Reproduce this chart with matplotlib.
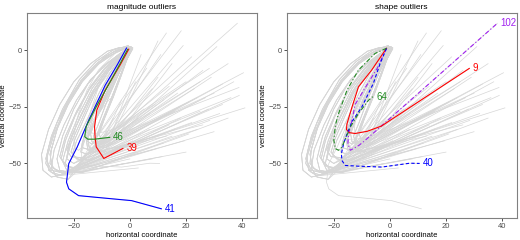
import numpy as np
import matplotlib.pyplot as plt

plt.rcParams['font.family'] = ['Liberation Sans', 'DejaVu Sans']

# background curves: path from the start point down to the turn (x, y)
descents = [
    [(0, 1.5), (-4, 1), (-8, -0.5), (-14, -6), (-20, -14), (-25, -24), (-29, -35), (-31.5, -46), (-31, -53), (-28, -56)],
    [(0.2, 1.4), (-4.5, 0), (-9, -3), (-15, -10), (-21, -20), (-26, -32), (-29, -43), (-30, -50), (-28, -54), (-25, -55)],
    [(0, 1.5), (-5, -1), (-11, -6), (-17, -14), (-22, -24), (-26, -35), (-28.5, -46), (-27.5, -52), (-24, -54)],
    [(0.4, 1.2), (-4, -2), (-9.5, -7), (-15, -15), (-20, -26), (-24, -38), (-26, -48), (-25, -53), (-21, -54)],
    [(0, 1.2), (-4, -2), (-9, -8), (-14, -16), (-19, -27), (-23, -38), (-25, -47), (-23, -51), (-20, -52)],
    [(0.5, 1), (-3.5, -3), (-8, -10), (-13, -19), (-17, -30), (-21, -41), (-22.5, -48), (-20, -50)],
    [(0.3, 1), (-3, -3), (-7, -10), (-11, -19), (-15, -30), (-19, -40), (-20.5, -46), (-18, -48.5)],
    [(0.6, 1.3), (-2.5, -3), (-6.5, -11), (-10.5, -21), (-14, -31), (-17, -41), (-17.5, -45), (-15, -46)],
    [(0.5, 1), (-2, -4), (-5, -11), (-9, -21), (-12.5, -31), (-15, -39), (-14.5, -43), (-12, -44)],
    [(0.8, 0.8), (-1.5, -4), (-4.5, -12), (-8, -22), (-11, -32), (-13, -38), (-12, -41), (-10, -41.5)],
    [(0.8, 0.5), (-1, -4), (-3, -11), (-6, -21), (-9, -30), (-11, -37), (-10, -40), (-8, -40.5)],
    [(1, 1), (-1, -3), (-3.5, -9), (-7, -18), (-11, -28), (-14.5, -36), (-15.5, -40), (-13.5, -41.5)],
    [(-0.5, 2), (-6, 0), (-12, -5), (-18, -13), (-24, -26), (-28, -38), (-30, -48), (-28, -53), (-23, -54.5)],
    [(0.2, 1), (-3, -2.5), (-8, -9), (-12.5, -17), (-17, -28), (-20.5, -37), (-22.5, -44), (-21, -47), (-17, -47.5)],
    [(1, 0.5), (-1.5, -5), (-4, -13), (-7.5, -24), (-10.5, -33), (-12.5, -40), (-12, -44), (-9, -45)],
    [(0, 1.5), (-3.5, -1.5), (-8.5, -6.5), (-14, -13), (-19, -22), (-23.5, -33), (-27, -44), (-28, -52), (-26, -56), (-22, -57)],
    [(0.3, 1.3), (-4.2, -0.5), (-10, -4.5), (-16, -12), (-21.5, -22), (-25.5, -33), (-28, -44), (-28.5, -50), (-26, -53.5), (-22, -54)],
    [(0.6, 1), (-2.8, -2.5), (-7.5, -9), (-12, -18), (-16, -29), (-19.5, -39), (-21, -45), (-19, -48), (-15, -48.5)],
    [(0.9, 0.8), (-1.8, -3.5), (-5.5, -11.5), (-9.5, -21.5), (-13, -32), (-15.5, -40), (-15, -44), (-12.5, -45)],
    [(0.4, 1.4), (-3.2, -1.5), (-8, -8), (-13.5, -17), (-18, -28), (-22, -40), (-24, -49), (-22.5, -53), (-19, -54)],
    [(0.7, 0.7), (-1.2, -4.5), (-3.8, -12.5), (-7, -23), (-10, -32.5), (-12, -39), (-11, -42.5), (-8.5, -43)],
    [(0.1, 1.6), (-5.5, -0.5), (-11.5, -5.5), (-17.5, -13.5), (-23, -25), (-27, -37), (-29.5, -47), (-29, -53), (-26, -55.5)],
    [(0.5, 1.1), (-2.2, -3.5), (-6, -10.5), (-10, -20), (-13.5, -30), (-16.5, -38.5), (-17, -43), (-14.5, -44)],
    [(0.2, 1.3), (-3.8, -2), (-9, -8.5), (-14.5, -17.5), (-19.5, -29), (-23, -40), (-24.5, -48), (-22, -51.5), (-18, -52)],
    [(0.8, 0.9), (-1.6, -3.5), (-4.8, -11), (-8.5, -20.5), (-12, -30), (-14, -37), (-13.5, -40.5), (-11, -41.5)],
    [(0.4, 1.2), (-3.5, -2.5), (-8.5, -9.5), (-13.5, -18.5), (-18, -30), (-21.5, -41), (-23, -50), (-21, -53.5), (-17, -54)],
]
# end points of the curves leaving each turn
ends = [
    [(0, -48), (11.5, -47), (19.5, -40)],
    [(9.5, -43.5), (-4, -43), (14, -33)],
    [(24, -35), (1, -40), (28.5, -31)],
    [(7, -35), (18, -30), (-8, -36)],
    [(11, -30), (33, -24), (-5, -38)],
    [(16, -27), (25, -27), (3, -30)],
    [(41, -25.5), (5, -26), (-2, -33)],
    [(36, -21), (21, -23), (12, -22)],
    [(27, -21), (-6, -30), (17, -19)],
    [(30, -19), (8, -17), (-3, -22)],
    [(2, -14), (23, -17), (10, -12)],
    [(38.9, -16.5), (20, -14), (6, -8)],
    [(37, -14), (29, -12), (26, -9)],
    [(40.5, -10), (35, -6), (22, -3)],
    [(15, -6), (4, -2), (10, 4)],
    [(31, 1.5), (18.3, 8.5), (13, 7.5)],
    [(2, -45), (15, -38), (-6, -46)],
    [(22, -32), (6, -40), (32, -28)],
    [(13, -38), (26, -33), (-1, -42)],
    [(20, -45), (8, -48), (30, -36)],
    [(18, -25), (7, -28), (33, -15)],
    [(12, -41), (3, -52), (-10, -50)],
    [(24, -21), (14, -16), (9, -24)],
    [(39, -20), (28, -26), (16, -35)],
    [(11, -2), (19, 2), (25, -14)],
    [(35, -30), (-2, -50), (21, -37)],
]

# magnitude outliers
c41_x = [-1.2, -4.5, -8.8, -14.7, -18.8, -21.8, -22.6, -21.8, -18.3, -12.4, 0.6, 11.2]
c41_y = [0.9, -6.5, -15.5, -31, -42.8, -50.1, -58.3, -61.2, -64.2, -64.9, -66.4, -70]
c39_x = [-0.4, -3.5, -8.8, -11.8, -12.6, -12.4, -12, -11.2, -9.3, -2.5]
c39_y = [0.4, -6.6, -17.7, -26.5, -33.8, -38.4, -42.7, -44.2, -47.8, -43.4]
c46_x = [-0.8, -3.5, -7.7, -12, -14.5, -15.6, -16.1, -15, -12.6, -7.2]
c46_y = [0.3, -6, -15.5, -25, -31, -33.8, -38.2, -39.3, -39.3, -38.5]

# shape outliers
c102_x = [-1.2, -4.5, -9, -12.4, -13.5, -14.7, -15, -14.1, -11, -8.8, 38.3]
c102_y = [0.8, -8, -17, -24, -31, -37, -41.3, -44.2, -42, -39.8, 11.8]
c9_x = [-1.2, -6.5, -11.2, -13.5, -15.3, -15.5, -14.5, -12.4, -8, -3, 28.3]
c9_y = [0.8, -8.8, -16.2, -25.1, -32.5, -35, -36.4, -36.8, -35.8, -33.5, -8.1]
c40_x = [-1.2, -3.5, -5.9, -10, -13.5, -15.3, -16.5, -17.3, -17.1, -15.9, -11.2, -2.9, 7.1, 10.6]
c40_y = [0.8, -6, -14.7, -25.1, -31.5, -37, -41.3, -45.7, -48.7, -50.9, -51.2, -51.6, -49.9, -50]
c64_x = [-1.2, -5.3, -11.2, -15.3, -18.3, -19.4, -20, -19.4, -18.3, -17.1, -14.1, -11.2, -7.6, -6]
c64_y = [0.8, -1.5, -8.8, -17.7, -28, -33, -39.8, -43.5, -44.2, -42.8, -33.9, -28, -22.1, -20.5]

mag = [(c41_x, c41_y, '41', 'blue'), (c39_x, c39_y, '39', 'red'), (c46_x, c46_y, '46', 'forestgreen')]
shp = [(c102_x, c102_y, '102', '#a020f0', (0, (4, 2, 1, 2))),
       (c9_x, c9_y, '9', 'red', '-'),
       (c40_x, c40_y, '40', 'blue', (0, (3, 2))),
       (c64_x, c64_y, '64', 'forestgreen', (0, (4, 2, 1, 2)))]

fig = plt.figure(figsize=(5.2, 2.4), dpi=100)
ax1 = fig.add_axes([0.0513, 0.0904, 0.4423, 0.854])
ax2 = fig.add_axes([0.5513, 0.0904, 0.4423, 0.854])

for ax, title in [(ax1, 'magnitude outliers'), (ax2, 'shape outliers')]:
    for d, es in zip(descents, ends):
        dx = [p[0] for p in d]
        dy = [p[1] for p in d]
        for e in es:
            ax.plot(dx + [e[0]], dy + [e[1]], color='#d6d6d6', lw=0.5, zorder=1)
    for cx, cy in [(c41_x, c41_y), (c39_x, c39_y), (c46_x, c46_y),
                   (c102_x, c102_y), (c9_x, c9_y), (c40_x, c40_y), (c64_x, c64_y)]:
        ax.plot(cx, cy, color='#d6d6d6', lw=0.5, zorder=1)
    ax.set_xlim(-36.8, 45.2)
    ax.set_ylim(-74.2, 16.2)
    ax.set_xticks([-20, 0, 20, 40])
    ax.set_yticks([0, -25, -50])
    ax.set_title(title, fontsize=6, pad=3)
    ax.set_xlabel('horizontal coordinate', fontsize=5.5, labelpad=1.5)
    ax.set_ylabel('vertical coordinate', fontsize=5.5, labelpad=1.5)
    ax.tick_params(labelsize=5.5, length=2, width=0.6, pad=1.5,
                   colors='#333333', labelcolor='#4d4d4d')
    for s in ax.spines.values():
        s.set_color('#808080')
        s.set_linewidth(0.8)

for cx, cy, lab, col in mag:
    ax1.plot(cx, cy, color=col, lw=0.8, zorder=3)
    ax1.text(cx[-1] + 1.2, cy[-1], lab, color=col, fontsize=7, va='center', ha='left')

for cx, cy, lab, col, ls in shp:
    ax2.plot(cx, cy, color=col, lw=0.8, ls=ls, zorder=3)
    ax2.text(cx[-1] + 1.2, cy[-1], lab, color=col, fontsize=7, va='center', ha='left')

fig.savefig('out.png', dpi=100)
